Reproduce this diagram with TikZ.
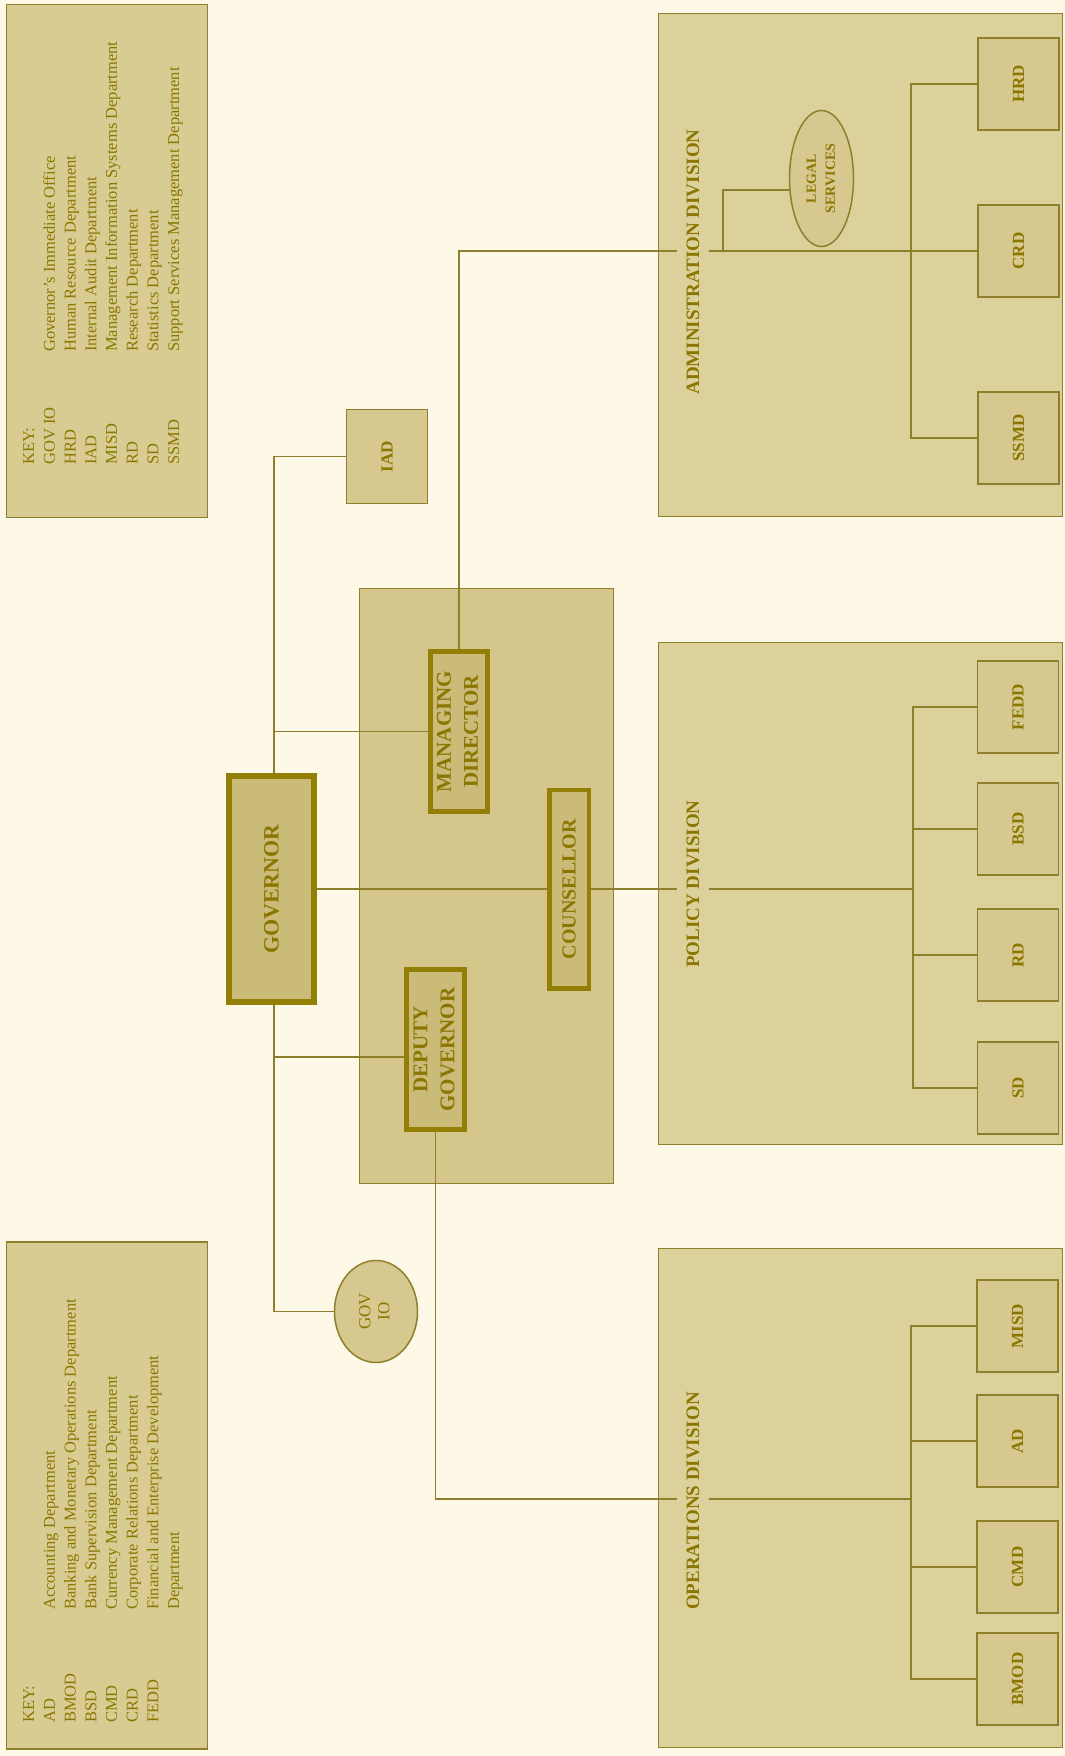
\documentclass[tikz,border=0pt]{standalone}
\usepackage{fontspec}
\setmainfont{Liberation Serif}
\usetikzlibrary{shapes.geometric}
\definecolor{bgc}{HTML}{FEF8E7}
\definecolor{divc}{HTML}{DDD19B}
\definecolor{deptc}{HTML}{D6C88E}
\definecolor{cenc}{HTML}{D5C78C}
\definecolor{govc}{HTML}{CBBB78}
\definecolor{keyc}{HTML}{D9CC93}
\definecolor{lnc}{HTML}{8E7F2C}
\definecolor{thk}{HTML}{947F06}
\definecolor{txc}{HTML}{8A7600}
\newcommand{\rotlbl}[1]{\rotatebox{90}{#1}}
\newcommand{\twoline}[2]{\begin{tabular}{@{}c@{}}#1\\#2\end{tabular}}
\begin{document}
\begin{tikzpicture}[x=1pt,y=-1pt,
  every node/.style={inner sep=0pt, text=txc},
  ln/.style={draw=lnc, line width=1.8pt},
  plainbox/.style={draw=lnc, line width=1.5pt},
  divbox/.style={plainbox, fill=divc},
  deptbox/.style={plainbox, fill=deptc, minimum width=81pt, minimum height=92pt, font=\fontsize{17}{20}\selectfont\bfseries},
  heavybox/.style={draw=thk, line width=5pt, fill=govc, font=\fontsize{21}{27}\selectfont\bfseries},
  divlbl/.style={fill=divc, inner xsep=9.5pt, inner ysep=1pt, font=\fontsize{19}{22}\selectfont\bfseries},
  keytext/.style={font=\fontsize{16.5}{20.7}\selectfont},
  oval/.style={ellipse, plainbox, fill=deptc}
]
\fill[bgc] (0,0) rectangle (1065,1756);
\useasboundingbox (0,0) rectangle (1065,1756);

% key boxes
\node[plainbox, fill=keyc, minimum width=201pt, minimum height=513pt] (key1) at (107,261) {};
\node[keytext, anchor=south west] (key1t) at (19.5,465) {\rotlbl{\begin{tabular}{@{}p{113pt}@{}l@{}}
KEY: & \\
GOV IO & Governor's Immediate Office\\
HRD & Human Resource Department\\
IAD & Internal Audit Department\\
MISD & Management Information Systems Department\\
RD & Research Department\\
SD & Statistics Department\\
SSMD & Support Services Management Department
\end{tabular}}};
\node[plainbox, fill=keyc, minimum width=201pt, minimum height=507pt] (key2) at (107,1495.5) {};
\node[keytext, anchor=south west] (key2t) at (19.5,1723) {\rotlbl{\begin{tabular}{@{}p{113pt}@{}l@{}}
KEY: & \\
AD & Accounting Department\\
BMOD & Banking and Monetary Operations Department\\
BSD & Bank Supervision Department\\
CMD & Currency Management Department\\
CRD & Corporate Relations Department\\
FEDD & Financial and Enterprise Development\\
 & Department
\end{tabular}}};

% division boxes
\node[divbox, minimum width=404pt, minimum height=503pt] (adm) at (860.5,265) {};
\node[divbox, minimum width=404pt, minimum height=502pt] (pol) at (860.5,893.5) {};
\node[divbox, minimum width=404pt, minimum height=499pt] (ops) at (860.5,1498) {};

% central box
\node[plainbox, fill=cenc, minimum width=254pt, minimum height=595pt] (cen) at (486.5,886) {};

% top level
\node[heavybox, line width=6pt, minimum width=85pt, minimum height=226pt, font=\fontsize{22}{26}\selectfont\bfseries] (gov) at (271.5,889) {\rotlbl{GOVERNOR}};
\node[heavybox, minimum width=57pt, minimum height=160pt] (md) at (459,731.5) {\rotlbl{\twoline{MANAGING}{DIRECTOR}}};
\node[heavybox, minimum width=58pt, minimum height=160pt] (dg) at (435.5,1049.5) {\rotlbl{\twoline{DEPUTY}{GOVERNOR}}};
\node[heavybox, line width=4.5pt, minimum width=39.5pt, minimum height=198.5pt, font=\fontsize{20}{24}\selectfont\bfseries] (couns) at (569,889) {\rotlbl{COUNSELLOR}};
\node[deptbox, minimum height=94pt] (iad) at (387,456.5) {\rotlbl{IAD}};
\node[oval, minimum width=83pt, minimum height=102pt, font=\fontsize{17}{19}\selectfont] (govio) at (376,1311.5) {\rotlbl{\twoline{GOV}{IO}}};

% administration
\node[oval, minimum width=64pt, minimum height=136pt, font=\fontsize{14}{19}\selectfont\bfseries] (legal) at (821.5,178.5) {\rotlbl{\twoline{LEGAL}{SERVICES}}};
\node[deptbox] (hrd) at (1018.5,84) {\rotlbl{HRD}};
\node[deptbox] (crd) at (1018.5,251) {\rotlbl{CRD}};
\node[deptbox] (ssmd) at (1018.5,438) {\rotlbl{SSMD}};

% policy
\node[deptbox] (fedd) at (1018,707) {\rotlbl{FEDD}};
\node[deptbox] (bsd) at (1018,829) {\rotlbl{BSD}};
\node[deptbox] (rd) at (1018,955) {\rotlbl{RD}};
\node[deptbox] (sd) at (1018,1088) {\rotlbl{SD}};

% operations
\node[deptbox] (misd) at (1017.5,1326) {\rotlbl{MISD}};
\node[deptbox] (ad) at (1017.5,1441) {\rotlbl{AD}};
\node[deptbox] (cmd) at (1017.5,1567) {\rotlbl{CMD}};
\node[deptbox] (bmod) at (1017.5,1679) {\rotlbl{BMOD}};

\coordinate (admb) at (911,251);
\coordinate (lglj) at (723,251);
\coordinate (polb) at (913,889);
\coordinate (opb) at (911,1499);

% connectors
\draw[ln] (iad.west) -| ([xshift=2.5pt]gov.north);
\draw[ln] (govio.west) -| ([xshift=2.5pt]gov.south);
\draw[ln] ([xshift=2.5pt]gov.north |- md.west) -- (md.west);
\draw[ln] ([xshift=2.5pt,yshift=-7.5pt]gov.south |- dg.west) -- ([yshift=-7.5pt]dg.west);
\draw[ln] (gov.east) -- (couns.west);
\draw[ln] (couns.east) -- (polb);
\draw[ln] (md.north) |- (crd.west);
\draw[ln] (legal.200) -| (lglj);
\draw[ln] (hrd.west) -| (admb) |- (ssmd.west);
\draw[ln] (fedd.west) -| (polb) |- (sd.west);
\draw[ln] (bsd.west) -- (bsd.west -| polb);
\draw[ln] (rd.west) -- (rd.west -| polb);
\draw[ln] (dg.south) |- (opb);
\draw[ln] (misd.west) -| (opb) |- (bmod.west);
\draw[ln] (ad.west) -- (ad.west -| opb);
\draw[ln] (cmd.west) -- (cmd.west -| opb);

% division labels
\node[divlbl] (admlbl) at (693,262) {\rotlbl{ADMINISTRATION DIVISION}};
\node[divlbl] (pollbl) at (693,884) {\rotlbl{POLICY DIVISION}};
\node[divlbl] (opslbl) at (693,1501) {\rotlbl{OPERATIONS DIVISION}};
\end{tikzpicture}
\end{document}
